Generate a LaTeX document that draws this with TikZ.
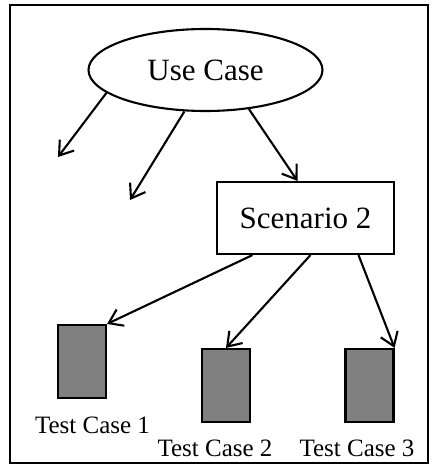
\documentclass[tikz,border=0pt]{standalone}
\usepackage{fontspec}
\setmainfont{Liberation Serif}
\usetikzlibrary{shapes.geometric,arrows.meta}

\tikzset{
  link/.style={line width=2.1pt, -{Straight Barb[length=13pt,width=18pt,line width=2.1pt]}},
  testbox/.style={draw, line width=2.1pt, fill=gray, minimum width=48pt, minimum height=73pt, inner sep=0pt},
  testlbl/.style={font=\fontsize{25}{28}\selectfont, inner sep=0pt}
}

\begin{document}
\begin{tikzpicture}[x=1pt, y=-1pt]
\useasboundingbox (0,0) rectangle (433,465);
% outer frame
\draw[line width=2.1pt] (10,5) rectangle (428,463);
% use case and scenario
\node[ellipse, draw, line width=2.1pt, minimum width=234pt, minimum height=82pt, inner sep=0pt,
  font=\fontsize{31}{36}\selectfont] (uc) at (205.5,70) {Use Case};
\node[draw, line width=2.1pt, minimum width=177pt, minimum height=72pt, inner sep=0pt,
  font=\fontsize{31}{36}\selectfont] (sc) at (305.5,218) {Scenario 2};
% open ends of the other scenarios
\coordinate (s1) at (58,157);
\coordinate (s3) at (130,200);
% test cases
\node[testbox] (tc1) at (82,361.5) {};
\node[testbox] (tc2) at (226,385.5) {};
\node[testbox] (tc3) at (369.5,385.5) {};
\node[testlbl] (l1) at (92.5,425) {Test Case 1};
\node[testlbl] (l2) at (215,448) {Test Case 2};
\node[testlbl] (l3) at (357,448) {Test Case 3};
% arrows
\draw[link] (uc.193) -- (s1);
\draw[link] (uc.243) -- (s3);
\draw[link] (uc.318) -- ([xshift=-8pt]sc.north);
\draw[link] ([xshift=-53pt]sc.south) -- (tc1.north east);
\draw[link] ([xshift=5pt]sc.south) -- (tc2.north);
\draw[link] ([xshift=53pt]sc.south) -- (tc3.north east);
\end{tikzpicture}
\end{document}
